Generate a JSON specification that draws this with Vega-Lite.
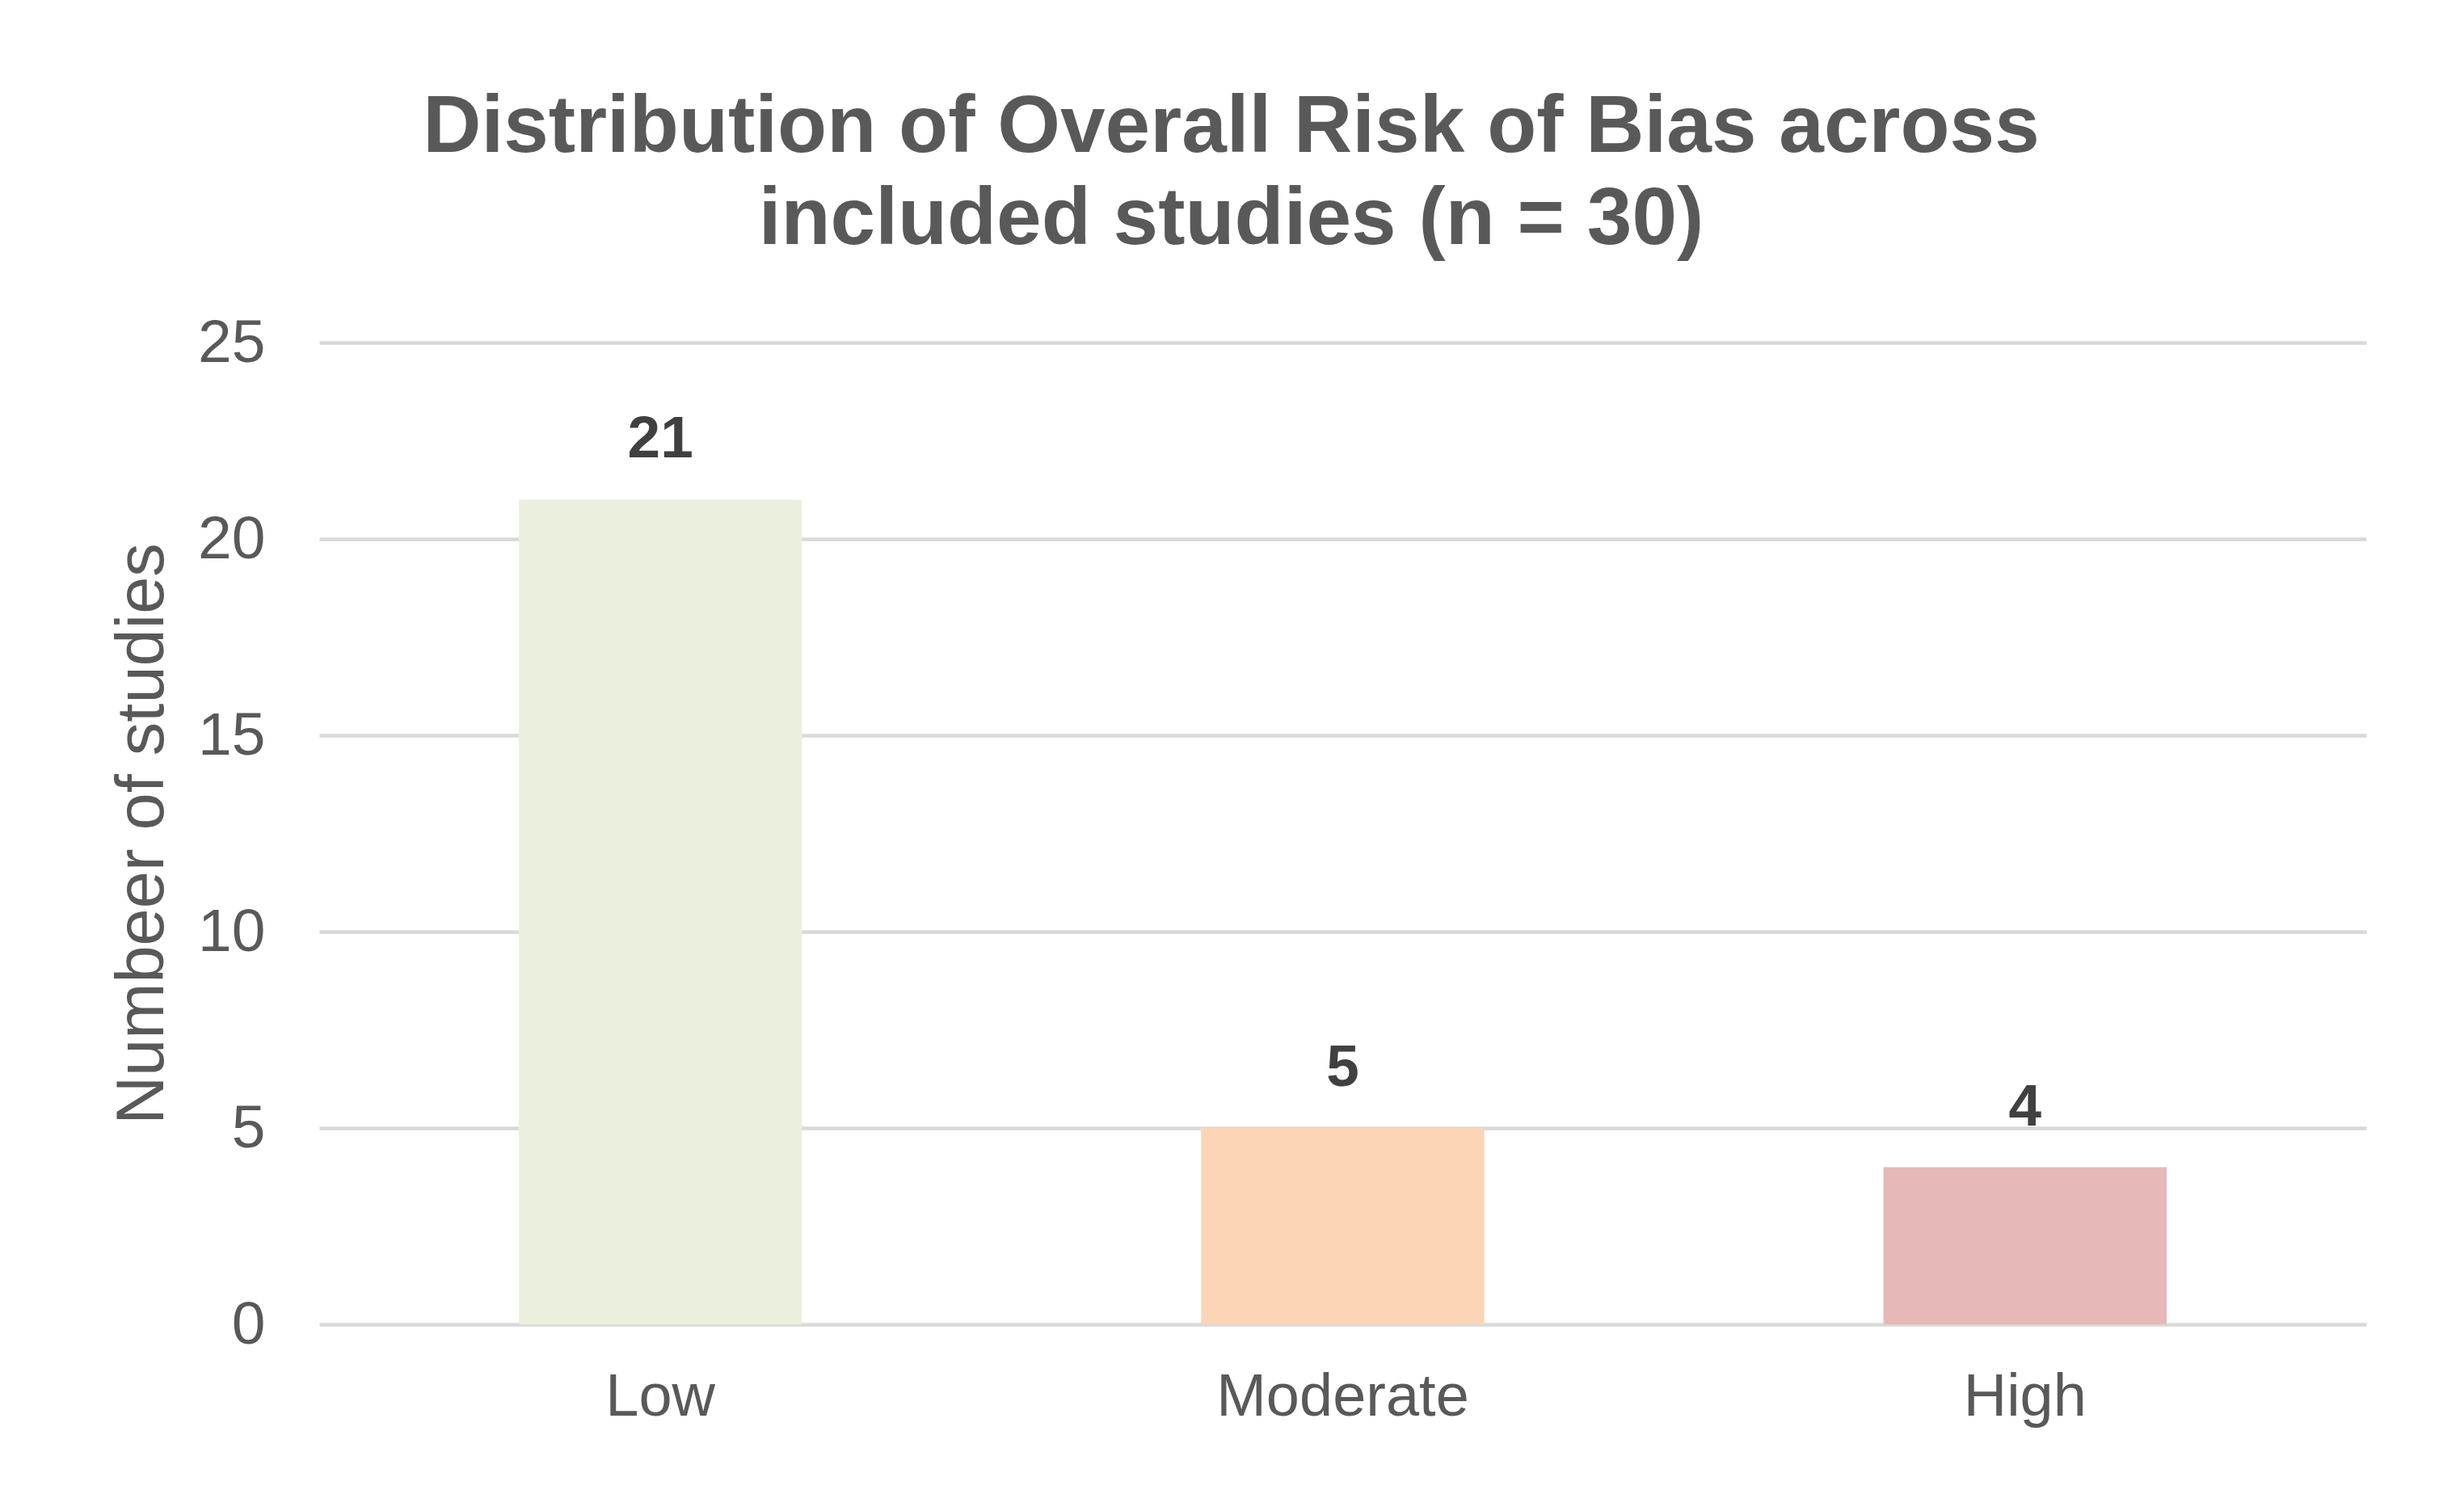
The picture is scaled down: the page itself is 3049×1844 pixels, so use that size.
{
  "$schema": "https://vega.github.io/schema/vega-lite/v6.json",
  "autosize": {"type": "none"},
  "padding": {"left": 395, "top": 424, "right": 121, "bottom": 205},
  "width": 2533,
  "height": 1215,
  "background": "white",
  "title": {
    "text": ["Distribution of Overall Risk of Bias across", "included studies (n = 30)"],
    "font": "Liberation Sans",
    "fontSize": 100,
    "fontWeight": "bold",
    "color": "#595959",
    "lineHeight": 114,
    "anchor": "middle",
    "dx": -138,
    "offset": 64
  },
  "data": {
    "values": [
      {"risk": "Low", "studies": 21},
      {"risk": "Moderate", "studies": 5},
      {"risk": "High", "studies": 4}
    ]
  },
  "encoding": {
    "x": {
      "field": "risk",
      "type": "nominal",
      "sort": ["Low", "Moderate", "High"],
      "scale": {"paddingInner": 0.585, "paddingOuter": 0.2925},
      "axis": {
        "title": null,
        "labelAngle": 0,
        "labelLimit": 0,
        "labelFont": "Liberation Sans",
        "labelFontSize": 74,
        "labelColor": "#595959",
        "labelPadding": 54,
        "ticks": false,
        "domain": false,
        "grid": false
      }
    },
    "y": {
      "field": "studies",
      "type": "quantitative",
      "scale": {"domain": [0, 25], "nice": false},
      "axis": {
        "title": "Numbeer of studies",
        "titleFont": "Liberation Sans",
        "titleFontSize": 83,
        "titleFontWeight": "normal",
        "titleColor": "#595959",
        "titlePadding": 26,
        "values": [0, 5, 10, 15, 20, 25],
        "labelFont": "Liberation Sans",
        "labelFontSize": 75,
        "labelColor": "#595959",
        "labelPadding": 67,
        "ticks": false,
        "domain": false,
        "grid": true,
        "gridColor": "#d9d9d9",
        "gridWidth": 4.5
      }
    }
  },
  "layer": [
    {
      "mark": {"type": "bar"},
      "encoding": {
        "color": {
          "field": "risk",
          "type": "nominal",
          "scale": {"domain": ["Low", "Moderate", "High"], "range": ["#EBF0DE", "#FBD5B5", "#E6B8B7"]},
          "legend": null
        }
      }
    },
    {
      "mark": {
        "type": "text",
        "font": "Liberation Sans",
        "fontSize": 73,
        "fontWeight": "bold",
        "color": "#404040",
        "baseline": "alphabetic",
        "dy": -52
      },
      "encoding": {
        "text": {"field": "studies", "type": "quantitative"}
      }
    }
  ],
  "config": {
    "view": {"stroke": null}
  }
}
